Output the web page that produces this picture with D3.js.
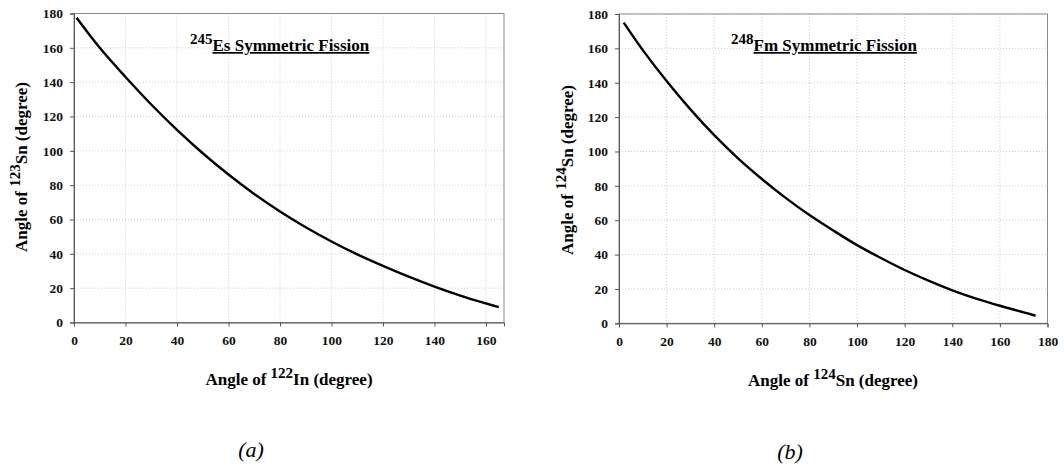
<!DOCTYPE html>
<html>
<head>
<meta charset="utf-8">
<script src="https://cdn.jsdelivr.net/npm/d3@7"></script>
<style>
  body { margin: 0; background: #fff; }
  svg { display: block; font-family: "Liberation Serif", "Times New Roman", serif; }
  .tick text { font-family: "Liberation Serif", "Times New Roman", serif; font-weight: bold; font-size: 13.5px; fill: #111; }
</style>
</head>
<body>
<svg id="chart" width="1064" height="471"></svg>
<script>
// panel (a): 245Es
const esX = [1, 10, 20, 30, 40, 50, 60, 70, 80, 90, 100, 110, 120, 130, 140, 150, 160, 165];
const esY = [177.5, 160, 143, 127, 112.2, 98.6, 86.2, 74.9, 64.7, 55.5, 47.2, 39.7, 33, 26.7, 20.9, 15.7, 11.1, 8.9];
const esXTicks = [0, 20, 40, 60, 80, 100, 120, 140, 160];

// panel (b): 248Fm
const fmX = [2, 10, 20, 30, 40, 50, 60, 70, 80, 90, 100, 110, 120, 130, 140, 150, 160, 170, 175];
const fmY = [175, 159, 141, 124.5, 109.5, 96, 84, 73, 63, 54, 45.5, 38, 31, 24.8, 19.2, 14.4, 10.2, 6.4, 4.4];
const fmXTicks = [0, 20, 40, 60, 80, 100, 120, 140, 160, 180];

const yTicks = [0, 20, 40, 60, 80, 100, 120, 140, 160, 180];

const svg = d3.select("#chart");

const panels = [
    {
        xs: esX, ys: esY, xTicks: esXTicks, xMax: 167,
        left: 74, right: 504, top: 13.5, bottom: 322.5,
        titleSup: "245", title: "Es Symmetric Fission", titleX: 190,
        xSup: "122", xName: "In", ySup: "123", yName: "Sn",
        xLabelX: 289, xLabelY: 385, yLabelX: 27, yLabelY: 167,
        caption: "(a)", captionX: 251, captionY: 457
    },
    {
        xs: fmX, ys: fmY, xTicks: fmXTicks, xMax: 180,
        left: 619, right: 1047.5, top: 14, bottom: 323.3,
        titleSup: "248", title: "Fm Symmetric Fission", titleX: 731,
        xSup: "124", xName: "Sn", ySup: "124", yName: "Sn",
        xLabelX: 833, xLabelY: 386, yLabelX: 573, yLabelY: 170,
        caption: "(b)", captionX: 790, captionY: 459
    }
];

function addSupLabel(sel, sup, name) {
    sel.append("tspan").text("Angle of ");
    sel.append("tspan").attr("font-size", "15px").attr("dy", -7).text(sup);
    sel.append("tspan").attr("dy", 7).text(name + " (degree)");
}

panels.forEach(p => {
    const x = d3.scaleLinear().domain([0, p.xMax]).range([p.left, p.right]);
    const y = d3.scaleLinear().domain([0, 180]).range([p.bottom, p.top]);

    // grid
    const grid = svg.append("g").attr("stroke", "#cfcfcf").attr("stroke-dasharray", "1,2");
    grid.selectAll(".vg").data(p.xTicks.filter(t => t > 0 && t < p.xMax)).enter()
        .append("line")
        .attr("x1", d => x(d)).attr("x2", d => x(d))
        .attr("y1", p.top).attr("y2", p.bottom);
    grid.selectAll(".hg").data(yTicks.filter(t => t > 0)).enter()
        .append("line")
        .attr("x1", p.left).attr("x2", p.right)
        .attr("y1", d => y(d)).attr("y2", d => y(d));

    // plot border
    svg.append("rect")
        .attr("x", p.left).attr("y", p.top)
        .attr("width", p.right - p.left).attr("height", p.bottom - p.top)
        .attr("fill", "none").attr("stroke", "#8a8a8a").attr("stroke-width", 1);

    // axes
    const xa = svg.append("g")
        .attr("transform", `translate(0,${p.bottom})`)
        .call(d3.axisBottom(x).tickValues(p.xTicks).tickSize(4).tickPadding(9).tickFormat(d3.format("d")));
    const ya = svg.append("g")
        .attr("transform", `translate(${p.left},0)`)
        .call(d3.axisLeft(y).tickValues(yTicks).tickSize(4).tickPadding(7).tickFormat(d3.format("d")));
    [xa, ya].forEach(a => {
        a.attr("font-family", "'Liberation Serif', 'Times New Roman', serif");
        a.select(".domain").attr("stroke", "#555");
        a.selectAll(".tick line").attr("stroke", "#555");
    });

    // curve
    const pts = p.xs.map((v, i) => [v, p.ys[i]]);
    svg.append("path")
        .datum(pts)
        .attr("fill", "none")
        .attr("stroke", "#000")
        .attr("stroke-width", 2.4)
        .attr("d", d3.line().x(d => x(d[0])).y(d => y(d[1])).curve(d3.curveCatmullRom));

    // title
    const t = svg.append("text")
        .attr("x", p.titleX).attr("y", 51)
        .attr("font-weight", "bold").attr("font-size", "17px");
    t.append("tspan").attr("font-size", "15px").attr("dy", -7).text(p.titleSup);
    t.append("tspan").attr("dy", 7).attr("text-decoration", "underline").text(p.title);

    // x label
    const xl = svg.append("text")
        .attr("x", p.xLabelX).attr("y", p.xLabelY)
        .attr("text-anchor", "middle")
        .attr("font-weight", "bold").attr("font-size", "17px");
    addSupLabel(xl, p.xSup, p.xName);

    // y label
    const yl = svg.append("text")
        .attr("transform", `translate(${p.yLabelX},${p.yLabelY}) rotate(-90)`)
        .attr("text-anchor", "middle")
        .attr("font-weight", "bold").attr("font-size", "17px");
    addSupLabel(yl, p.ySup, p.yName);

    // caption
    svg.append("text")
        .attr("x", p.captionX).attr("y", p.captionY)
        .attr("text-anchor", "middle")
        .attr("font-style", "italic").attr("font-size", "22px")
        .text(p.caption);
});
</script>
</body>
</html>
